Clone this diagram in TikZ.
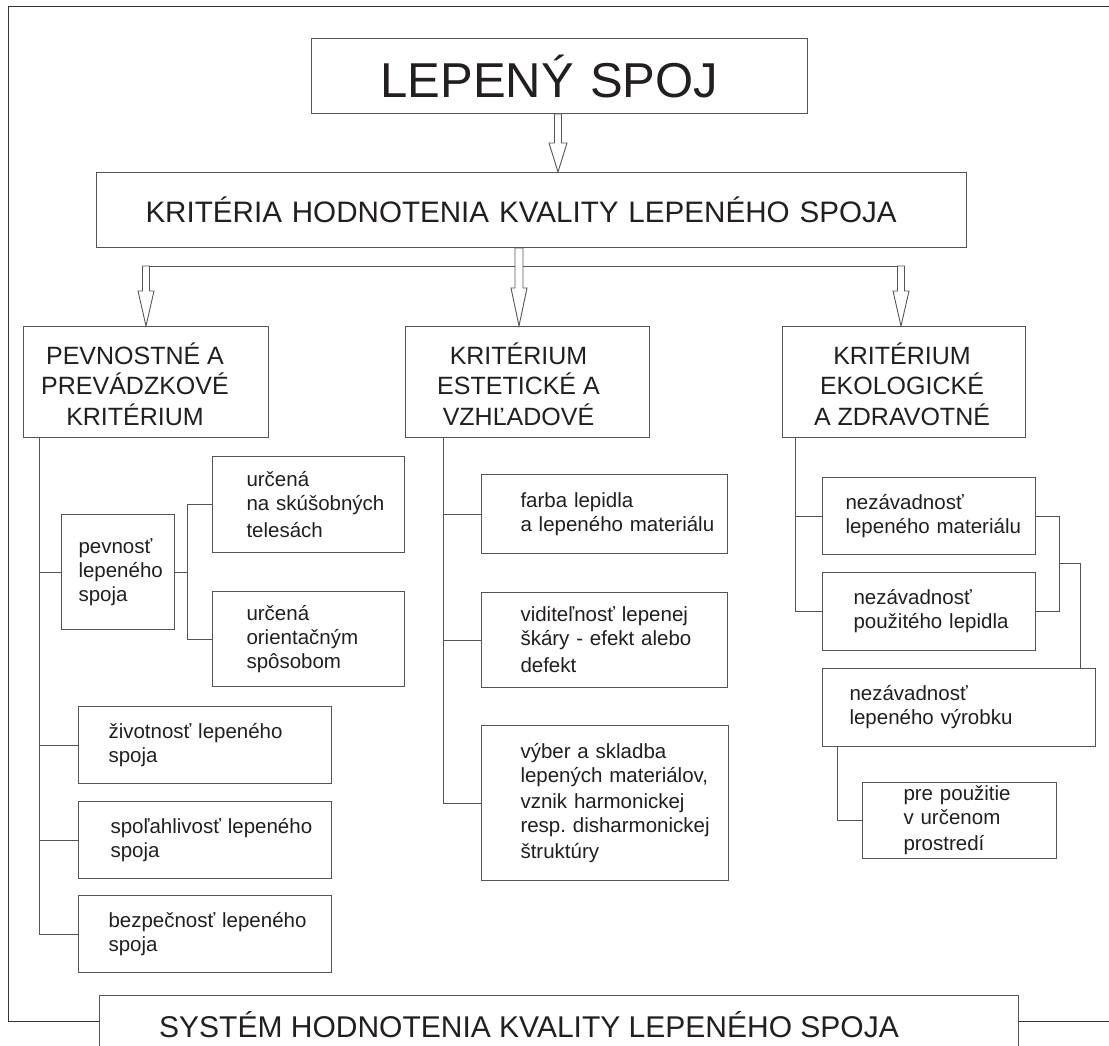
\documentclass[tikz,border=0pt]{standalone}
\usepackage{fontspec}
\setmainfont{Liberation Sans}
\usetikzlibrary{calc}
\definecolor{lc}{HTML}{555555}
\definecolor{tc}{HTML}{231F20}
\hyphenpenalty=10000
\exhyphenpenalty=10000
\hbadness=10000
\hfuzz=200pt
\newcommand\blockarrow[5]{%
  \filldraw[fill=white,draw=lc,line width=0.9pt,line join=miter]
  ($(#1)+(-#4,0)$) -- ($(#2)+(-#4,-#3)$) -- ($(#2)+(-#5,-#3)$) -- (#2) --
  ($(#2)+(#5,-#3)$) -- ($(#2)+(#4,-#3)$) -- ($(#1)+(#4,0)$) -- cycle;}
\newcommand\headtext[2]{\raisebox{0pt}[\dimexpr\height+13pt\relax]{\begin{tabular}{@{}c@{}}#1\end{tabular}}\kern#2pt}
\begin{document}
\begin{tikzpicture}[x=1pt,y=-1pt,
  sbox/.style={draw=lc,line width=1pt,fill=white,anchor=north west,inner ysep=0pt,
    align=left,text=tc,font=\fontsize{20.5}{24}\selectfont},
  hbox/.style={draw=lc,line width=1pt,fill=white,anchor=north west,inner sep=0pt,
    align=center,text=tc,font=\fontsize{25}{30}\selectfont},
  conn/.style={draw=lc,line width=1pt},
  frame/.style={draw=black!80,line width=1pt}]
\useasboundingbox (0,0) rectangle (1109,1046);
\fill[white] (0,0) rectangle (1109,1046);

% frame
\draw[frame] (1109,7) -- (8,7) -- (8,1021) -- (99,1021);
\draw[frame] (1018,1021) -- (1109,1021);
\draw[conn] (99,1046) -- (99,995) -- (1018,995) -- (1018,1046);
\node[anchor=west,inner sep=0pt,text=tc,font=\fontsize{30}{34}\selectfont] (sys) at (159,1025)
  {SYSTÉM HODNOTENIA KVALITY LEPENÉHO SPOJA};

% top boxes
\node[hbox,align=left,inner xsep=69pt,text width=358pt,minimum width=496pt,minimum height=75pt,
  font=\fontsize{49}{52}\selectfont] (top) at (311,38) {LEPENÝ SPOJ};
\node[hbox,align=left,inner xsep=49pt,text width=772pt,minimum width=870pt,minimum height=75pt,
  font=\fontsize{29.6}{34}\selectfont] (krit) at (96,172) {KRITÉRIA HODNOTENIA KVALITY LEPENÉHO SPOJA};

% column heads
\node[hbox,minimum width=245pt,minimum height=111pt] (L) at (23,326)
  {\headtext{PEVNOSTNÉ A\\PREVÁDZKOVÉ\\KRITÉRIUM}{22}};
\node[hbox,minimum width=244pt,minimum height=111pt] (M) at (405,326)
  {\headtext{KRITÉRIUM\\ESTETICKÉ A\\VZHĽADOVÉ}{18}};
\node[hbox,minimum width=243pt,minimum height=111pt] (R) at (782,326)
  {\headtext{KRITÉRIUM\\EKOLOGICKÉ\\A ZDRAVOTNÉ}{4}};

% arrows
\coordinate (a1) at (558,0);
\coordinate (a1s) at (top.south -| a1);
\coordinate (a1e) at (krit.north -| a1);
\blockarrow{a1s}{a1e}{29}{3.5}{9}
\coordinate (hL) at (146,266);
\coordinate (hR) at (901,266);
\draw[conn] ($(hL)+(-3.5,0)$) -- ($(hR)+(3.5,0)$);
\coordinate (hLe) at (L.north -| hL);
\coordinate (hRe) at (R.north -| hR);
\blockarrow{hL}{hLe}{35}{3.5}{8}
\blockarrow{hR}{hRe}{35}{3.5}{8}
\coordinate (a2) at (519,0);
\coordinate (a2s) at (krit.south -| a2);
\coordinate (a2e) at (M.north -| a2);
\blockarrow{a2s}{a2e}{38}{4}{8}

% left column
\node[sbox,inner xsep=17pt,text width=79pt,minimum width=113pt,minimum height=115pt] (pev) at (61,514) {pevnosť\\lepeného\\spoja};
\node[sbox,inner xsep=34pt,text width=124pt,minimum width=192pt,minimum height=96pt] (u1) at (212,456) {určená\\na~skúšobných\\[3pt]telesách};
\node[sbox,inner xsep=34pt,text width=124pt,minimum width=192pt,minimum height=95pt] (u2) at (212,591) {určená\\orientačným\\spôsobom};
\node[sbox,inner xsep=30pt,text width=193pt,minimum width=253pt,minimum height=77pt] (ziv) at (78,706) {životnosť~lepeného\\spoja};
\node[sbox,inner xsep=32pt,text width=189pt,minimum width=253pt,minimum height=77pt] (spo) at (78,801) {spoľahlivosť~lepeného\\spoja};
\node[sbox,inner xsep=30pt,text width=193pt,minimum width=253pt,minimum height=77pt] (bez) at (78,895) {bezpečnosť~lepeného\\spoja};

\coordinate (vL) at (39,0);
\draw[conn] (L.south -| vL) |- (bez.west);
\draw[conn] (pev.west -| vL) -- (pev.west);
\draw[conn] (ziv.west -| vL) -- (ziv.west);
\draw[conn] (spo.west -| vL) -- (spo.west);
\coordinate (vP) at (187,0);
\draw[conn] (pev.east) -- (pev.east -| vP);
\draw[conn] (u1.west) -| (vP |- u2.west) -- (u2.west);

% middle column
\node[sbox,inner xsep=39pt,text width=168pt,minimum width=246pt,minimum height=79pt] (farba) at (481,474) {farba~lepidla\\a~lepeného~materiálu};
\node[sbox,inner xsep=39pt,text width=168pt,minimum width=246pt,minimum height=95pt] (vid) at (481,592) {viditeľnosť~lepenej\\škáry~-~efekt~alebo\\[3pt]defekt};
\node[sbox,inner xsep=39pt,text width=169pt,minimum width=247pt,minimum height=155pt] (vyb) at (481,725) {výber~a~skladba\\lepených~materiálov,\\[2pt]vznik~harmonickej\\resp.~disharmonickej\\[2pt]štruktúry};
\coordinate (vM) at (443,0);
\draw[conn] (M.south -| vM) |- (vyb.west);
\draw[conn] (farba.west -| vM) -- (farba.west);
\draw[conn] (vid.west -| vM) -- (vid.west);

% right column
\node[sbox,inner xsep=23pt,text width=167pt,minimum width=213pt,minimum height=77pt] (nez1) at (822,477) {nezávadnosť\\lepeného~materiálu};
\node[sbox,inner xsep=31pt,text width=151pt,minimum width=213pt,minimum height=78pt] (nez2) at (822,572) {nezávadnosť\\použitého~lepidla};
\node[sbox,inner xsep=27pt,text width=219pt,minimum width=273pt,minimum height=78pt] (nez3) at (822,668) {nezávadnosť\\lepeného~výrobku};
\node[sbox,inner xsep=41pt,text width=112pt,minimum width=194pt,minimum height=76pt] (pre) at (862,782) {pre~použitie\\v~určenom\\[2pt]prostredí};
\coordinate (vR) at (795,0);
\draw[conn] (R.south -| vR) |- (nez2.west);
\draw[conn] (nez1.west -| vR) -- (nez1.west);
\coordinate (vB) at (1059,0);
\draw[conn] (nez1.east) -| (vB |- nez2.east) -- (nez2.east);
\coordinate (vC) at (1080,0);
\coordinate (jB) at ($(vB |- nez1.east)!0.5!(vB |- nez2.east)$);
\draw[conn] (jB) -| (nez3.north -| vC);
\coordinate (vD) at (837,0);
\draw[conn] (nez3.south -| vD) |- (pre.west);
\end{tikzpicture}
\end{document}
